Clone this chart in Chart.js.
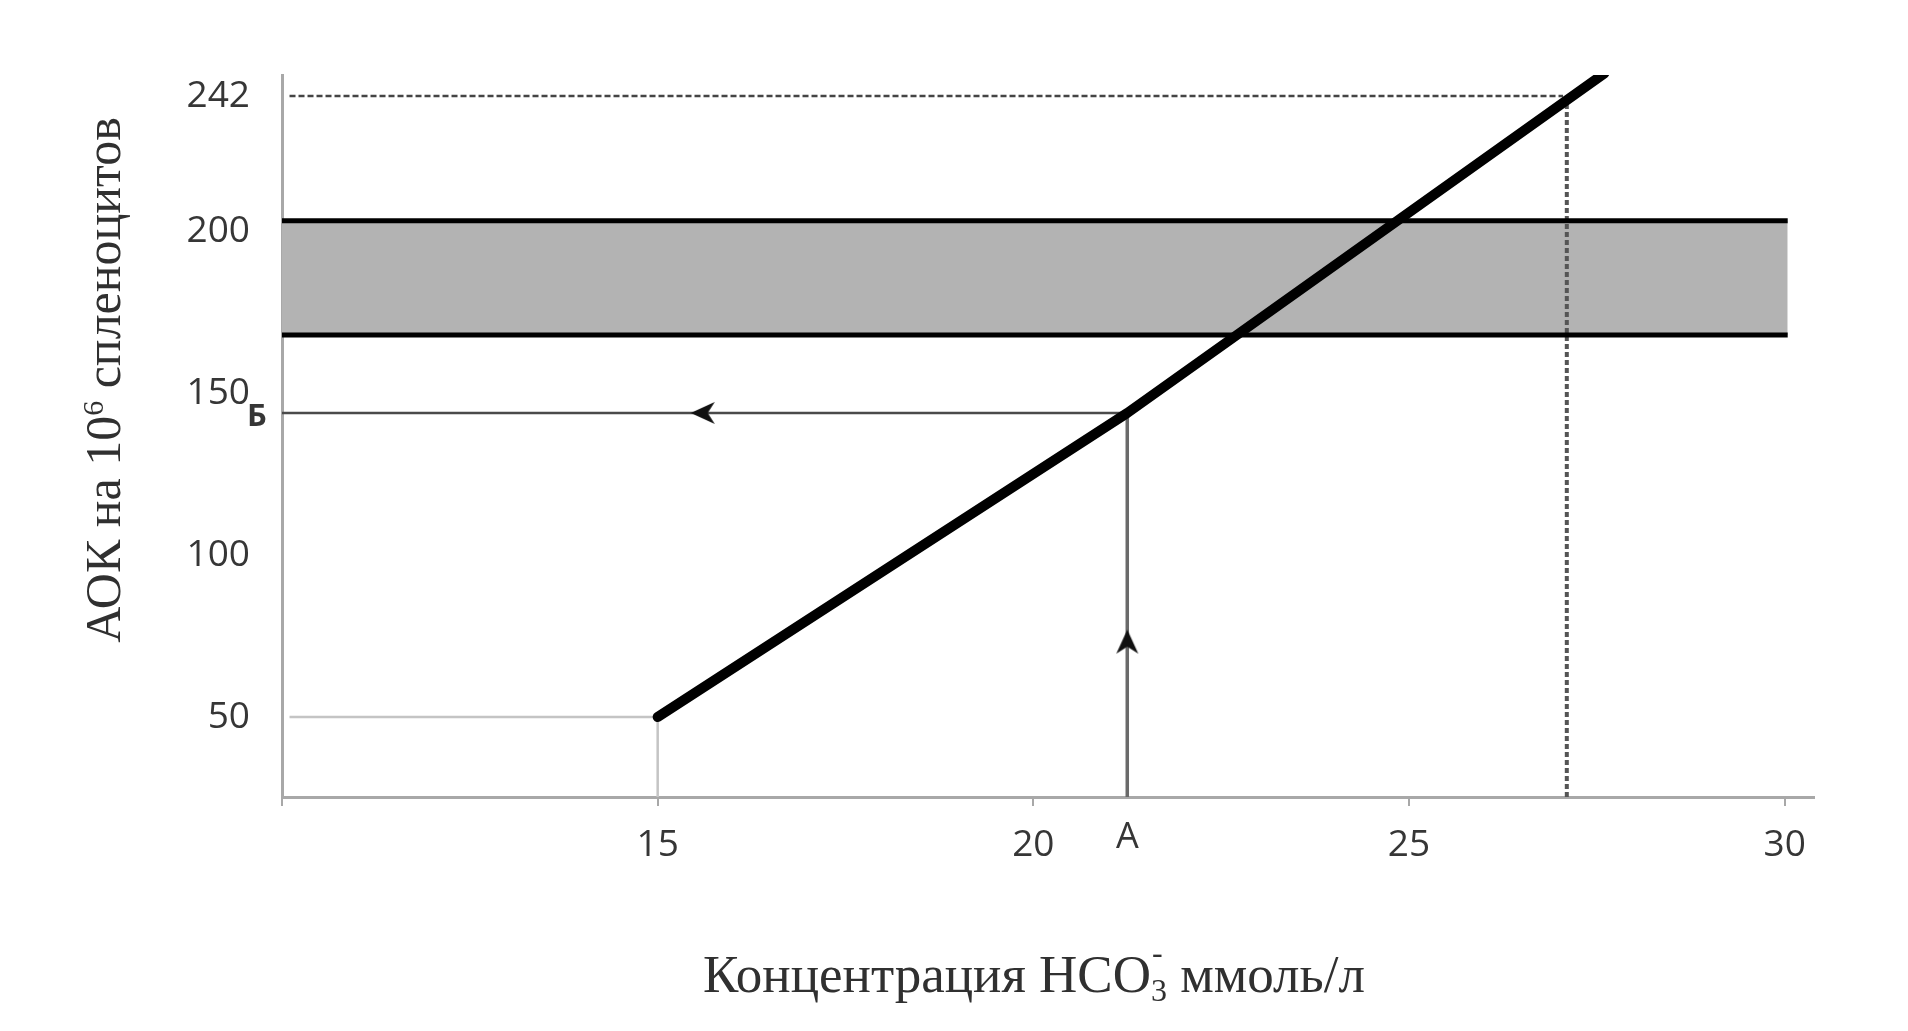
<!DOCTYPE html>
<html>
<head>
<meta charset="utf-8">
<script src="https://cdn.jsdelivr.net/npm/chart.js@4.4.1/dist/chart.umd.min.js"></script>
<style>
  html, body { margin: 0; padding: 0; background: #fff; }
  #wrap { width: 1908px; height: 1031px; }
</style>
</head>
<body>
<div id="wrap"><canvas id="myChart"></canvas></div>
<script>
// DATA
const xTicks = [10, 15, 20, 25, 30];
const xTickLabels = ["", "15", "20", "25", "30"];
const yTicks = [50, 100, 150, 200, 242];
const yTickLabels = ["50", "100", "150", "200", "242"];

// main dependence line
const curveX = [15, 21.25, 27.6];
const curveY = [50, 144, 249];

// grey band (norm)
const bandX = [10, 30.04];
const bandTop = [203.4, 203.4];
const bandBottom = [168.1, 168.1];

// points А and Б
const markA = 21.25;
const levelB = 144;
const arrowUpY = 73.3;
const arrowLeftX = 15.6;

// start point and 242 reference
const startX = 15;
const startY = 50;
const refX = 27.1;
const refY = 242;
const refLineEndX = 27.05;
const guideStartX = 10.1;

const xMin = 10, xMax = 30.39;
const yMin = 25.26, yMax = 248.5;

const tickFont = { family: "Open Sans", size: 37 };
const tickColor = "#363636";
const axisColor = "#a8a8a8";

function pts(xs, ys) {
  return xs.map((x, i) => ({ x: x, y: ys[i] }));
}

// arrow head used as point style
function makeArrow() {
  const c = document.createElement("canvas");
  c.width = 26;
  c.height = 26;
  const g = c.getContext("2d");
  g.fillStyle = "#111";
  g.beginPath();
  g.moveTo(13, 1);
  g.lineTo(24, 25);
  g.lineTo(13, 18);
  g.lineTo(2, 25);
  g.closePath();
  g.fill();
  return c;
}
const arrowImg = makeArrow();

// titles and letters
const labelsPlugin = {
  id: "labels",
  afterDraw(chart) {
    const ctx = chart.ctx;
    const x = chart.scales.x;
    const y = chart.scales.y;
    ctx.save();
    ctx.fillStyle = tickColor;
    ctx.textAlign = "center";
    ctx.textBaseline = "middle";
    ctx.font = '36px "Open Sans"';
    ctx.fillText("А", x.getPixelForValue(markA), x.top + 41);
    ctx.font = 'bold 31px "Open Sans"';
    ctx.fillText("Б", y.right - 25, y.getPixelForValue(levelB) + 4);

    // x title: Концентрация HCO3- ммоль/л
    ctx.fillStyle = "#303030";
    ctx.textAlign = "left";
    ctx.textBaseline = "alphabetic";
    const big = '53px "Liberation Serif"';
    const small = '32px "Liberation Serif"';
    const partA = "Концентрация HCO";
    const partB = " ммоль/л";
    ctx.font = big;
    const wa = ctx.measureText(partA).width;
    const wb = ctx.measureText(partB).width;
    ctx.font = small;
    const ws = ctx.measureText("3").width;
    let cx = 1034 - (wa + ws + wb) / 2;
    const base = 992;
    ctx.font = big;
    ctx.fillText(partA, cx, base);
    cx += wa;
    ctx.font = small;
    ctx.fillText("3", cx, base + 9);
    ctx.fillText("-", cx + 1, base - 29);
    cx += ws;
    ctx.font = big;
    ctx.fillText(partB, cx, base);

    // y title: АОК на 10^6 спленоцитов
    ctx.translate(120, 380);
    ctx.rotate(-Math.PI / 2);
    const yA = "АОК на 10";
    const yB = " спленоцитов";
    const yBig = '50px "Liberation Serif"';
    const ySmall = '30px "Liberation Serif"';
    ctx.font = yBig;
    const w1 = ctx.measureText(yA).width;
    const w3 = ctx.measureText(yB).width;
    ctx.font = ySmall;
    const w2 = ctx.measureText("6").width;
    let cy = -(w1 + w2 + w3) / 2;
    ctx.font = yBig;
    ctx.fillText(yA, cy, 0);
    cy += w1;
    ctx.font = ySmall;
    ctx.fillText("6", cy, -17);
    cy += w2;
    ctx.font = yBig;
    ctx.fillText(yB, cy, 0);
    ctx.restore();
  }
};

const ctx = document.getElementById("myChart");
const myChart = new Chart(ctx, {
  type: "scatter",
  data: {
    datasets: [
      {
        label: "curve",
        data: pts(curveX, curveY),
        showLine: true,
        borderColor: "#000",
        borderWidth: 10,
        borderCapStyle: "round",
        borderJoinStyle: "round",
        pointRadius: 0,
        clip: 0,
        order: 0,
      },
      {
        label: "arrow up",
        data: [{ x: markA, y: arrowUpY }],
        pointStyle: arrowImg,
        pointRadius: 13,
        order: 1,
      },
      {
        label: "arrow left",
        data: [{ x: arrowLeftX, y: levelB }],
        pointStyle: arrowImg,
        pointRadius: 13,
        rotation: -90,
        order: 1,
      },
      {
        label: "A line",
        data: [{ x: markA, y: yMin }, { x: markA, y: levelB }],
        showLine: true,
        borderColor: "#6a6a6a",
        borderWidth: 3.5,
        pointRadius: 0,
        order: 2,
      },
      {
        label: "B line",
        data: [{ x: xMin, y: levelB }, { x: markA, y: levelB }],
        showLine: true,
        borderColor: "#4a4a4a",
        borderWidth: 2.5,
        pointRadius: 0,
        order: 2,
      },
      {
        label: "ref h",
        data: [{ x: guideStartX, y: refY }, { x: refLineEndX, y: refY }],
        showLine: true,
        borderColor: "#444",
        borderWidth: 2.5,
        borderDash: [6, 3],
        pointRadius: 0,
        order: 3,
      },
      {
        label: "ref v",
        data: [{ x: refX, y: refY }, { x: refX, y: yMin }],
        showLine: true,
        borderColor: "#555",
        borderWidth: 4,
        borderDash: [5, 3],
        pointRadius: 0,
        order: 5,
      },
      {
        label: "start",
        data: [{ x: guideStartX, y: startY }, { x: startX, y: startY }, { x: startX, y: yMin }],
        showLine: true,
        borderColor: "#c4c4c4",
        borderWidth: 2.5,
        pointRadius: 0,
        order: 3,
      },
      {
        label: "band top",
        data: pts(bandX, bandTop),
        showLine: true,
        borderColor: "#000",
        borderWidth: 5,
        backgroundColor: "#b3b3b3",
        fill: "+1",
        pointRadius: 0,
        order: 4,
      },
      {
        label: "band bottom",
        data: pts(bandX, bandBottom),
        showLine: true,
        borderColor: "#000",
        borderWidth: 5,
        pointRadius: 0,
        order: 4,
      },
    ],
  },
  options: {
    responsive: true,
    maintainAspectRatio: false,
    animation: false,
    events: [],
    layout: { padding: { top: 75, right: 94, bottom: 0, left: 0 } },
    plugins: {
      legend: { display: false },
      tooltip: { enabled: false },
      filler: { drawTime: "beforeDatasetsDraw" },
    },
    scales: {
      x: {
        type: "linear",
        min: xMin,
        max: xMax,
        afterBuildTicks: (s) => {
          s.ticks = xTicks.map((v) => ({ value: v }));
        },
        afterFit: (s) => {
          s.height = 234;
          s.paddingLeft = 0;
          s.paddingRight = 0;
        },
        ticks: {
          callback: (v, i) => xTickLabels[i],
          font: tickFont,
          color: tickColor,
          padding: 17,
          maxRotation: 0,
          autoSkip: false,
        },
        grid: { drawOnChartArea: false, drawTicks: true, tickLength: 9, color: axisColor, lineWidth: 2 },
        border: { color: axisColor, width: 3 },
      },
      y: {
        type: "linear",
        min: yMin,
        max: yMax,
        afterBuildTicks: (s) => {
          s.ticks = yTicks.map((v) => ({ value: v }));
        },
        afterFit: (s) => {
          s.width = 282;
          s.paddingTop = 0;
          s.paddingBottom = 0;
        },
        ticks: {
          callback: (v, i) => yTickLabels[i],
          font: tickFont,
          color: tickColor,
          padding: 32,
          autoSkip: false,
        },
        grid: { drawOnChartArea: false, drawTicks: false },
        border: { color: axisColor, width: 3 },
      },
    },
  },
  plugins: [labelsPlugin],
});
</script>
</body>
</html>
